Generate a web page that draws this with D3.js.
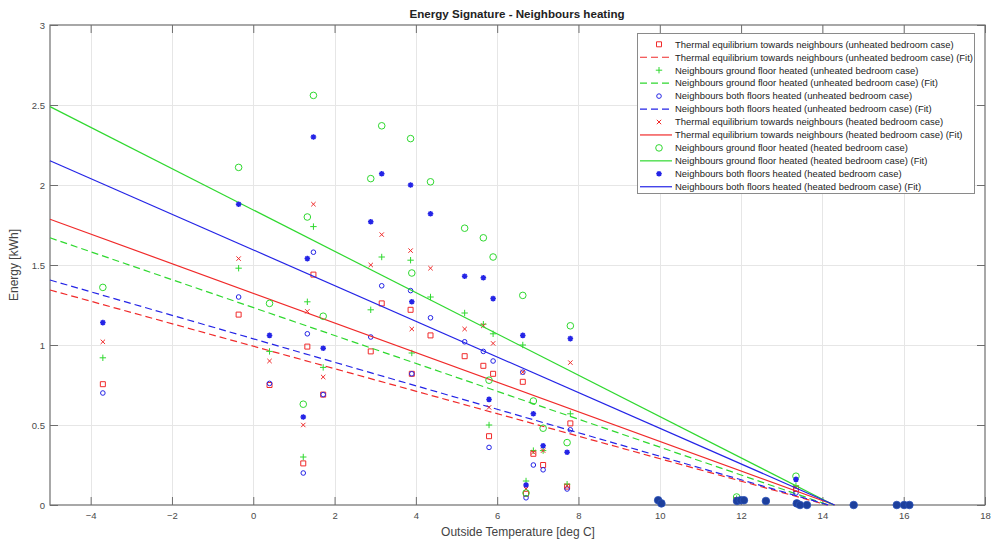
<!DOCTYPE html>
<html>
<head>
<meta charset="utf-8">
<script src="https://cdn.jsdelivr.net/npm/d3@7"></script>
<style>
  html, body { margin: 0; padding: 0; background: #fff; }
  svg { display: block; font-family: "Liberation Sans", Arial, Helvetica, sans-serif; }
</style>
</head>
<body>
<script>
// Outside temperatures (deg C) of the measured heating days
const temps = [-3.7, -0.36, 0.4, 1.23, 1.33, 1.48, 1.72, 2.89, 3.16, 3.87, 3.9, 4.36,
  5.2, 5.66, 5.8, 5.9, 6.63, 6.71, 6.89, 7.13, 7.72, 7.8, 11.89, 13.35];

// Daily heating energy [kWh] per scenario
const eqUnheated = [0.755, 1.19, 0.75, 0.26, 0.99, 1.44, 0.69, 0.96, 1.26, 1.22, 0.82, 1.06,
  0.93, 0.87, 0.43, 0.82, 0.77, 0.07, 0.32, 0.25, 0.115, 0.51, 0.03, 0.10];
const groundUnheated = [0.92, 1.48, 0.96, 0.30, 1.27, 1.74, 0.86, 1.22, 1.55, 1.53, 0.95, 1.30,
  1.20, 1.13, 0.50, 1.07, 1.00, 0.15, 0.34, 0.34, 0.13, 0.57, 0.04, 0.12];
const bothUnheated = [0.70, 1.30, 0.76, 0.20, 1.07, 1.58, 0.69, 1.05, 1.37, 1.34, 0.82, 1.17,
  1.02, 0.96, 0.36, 0.90, 0.83, 0.045, 0.25, 0.22, 0.10, 0.47, 0.03, 0.075];
const eqHeated = [1.02, 1.54, 0.90, 0.50, 1.21, 1.88, 0.80, 1.50, 1.69, 1.59, 1.10, 1.48,
  1.10, 1.12, 0.61, 1.01, 0.83, 0.10, 0.33, 0.34, 0.12, 0.89, 0.03, 0.11];
const groundHeated = [1.36, 2.11, 1.26, 0.63, 1.80, 2.56, 1.18, 2.04, 2.37, 2.29, 1.45, 2.02,
  1.73, 1.67, 0.78, 1.55, 1.31, 0.075, 0.65, 0.48, 0.39, 1.12, 0.05, 0.18];
const bothHeated = [1.14, 1.88, 1.06, 0.55, 1.54, 2.30, 0.98, 1.77, 2.07, 2.00, 1.27, 1.82,
  1.43, 1.42, 0.66, 1.29, 1.06, 0.125, 0.57, 0.37, 0.33, 1.04, 0.03, 0.16];

// Warm days with (almost) no heating demand in any scenario
const noHeatTemps = [9.96, 10.04, 11.9, 11.99, 12.07, 12.61, 13.37, 13.45, 13.62, 14.77, 15.83, 16.01, 16.14];
const noHeatEnergy = [0.03, 0.01, 0.025, 0.03, 0.03, 0.025, 0.01, 0, 0, 0, 0, 0, 0];

// Linear fits: [temperature, energy] at the start and at the balance point
const fitEqUnheated = [[-5, 1.344], [14.12, 0]];
const fitGroundUnheated = [[-5, 1.67], [14.15, 0]];
const fitBothUnheated = [[-5, 1.406], [14.15, 0]];
const fitEqHeated = [[-5, 1.786], [14.3, 0]];
const fitGroundHeated = [[-5, 2.49], [14.28, 0]];
const fitBothHeated = [[-5, 2.152], [14.3, 0]];

const legendLabels = [
  "Thermal equilibrium towards neighbours (unheated bedroom case)",
  "Thermal equilibrium towards neighbours (unheated bedroom case) (Fit)",
  "Neighbours ground floor heated (unheated bedroom case)",
  "Neighbours ground floor heated (unheated bedroom case) (Fit)",
  "Neighbours both floors heated (unheated bedroom case)",
  "Neighbours both floors heated (unheated bedroom case) (Fit)",
  "Thermal equilibrium towards neighbours (heated bedroom case)",
  "Thermal equilibrium towards neighbours (heated bedroom case) (Fit)",
  "Neighbours ground floor heated (heated bedroom case)",
  "Neighbours ground floor heated (heated bedroom case) (Fit)",
  "Neighbours both floors heated (heated bedroom case)",
  "Neighbours both floors heated (heated bedroom case) (Fit)"
];

const xTicks = [-4, -2, 0, 2, 4, 6, 8, 10, 12, 14, 16, 18];
const yTicks = [0, 0.5, 1, 1.5, 2, 2.5, 3];

const RED = "#f02a2a", GREEN = "#2fd82f", BLUE = "#2424e6", NAVY = "#1d3f9c";

// Marker shapes
const markers = {
  square: s => `M${-s},${-s}h${2 * s}v${2 * s}h${-2 * s}Z`,
  plus: s => `M${-s},0h${2 * s}M0,${-s}v${2 * s}`,
  circle: s => `M${s},0A${s},${s} 0 1,1 ${-s},0A${s},${s} 0 1,1 ${s},0Z`,
  cross: s => `M${-s},${-s}L${s},${s}M${-s},${s}L${s},${-s}`,
  star: s => {
    const d = s * 0.72;
    return `M${-s},0h${2 * s}M0,${-s}v${2 * s}M${-d},${-d}L${d},${d}M${-d},${d}L${d},${-d}`;
  }
};

const series = [
  { values: eqUnheated, fit: fitEqUnheated, color: RED, marker: "square", size: 2.5, sw: 1, dash: "7,4" },
  { values: groundUnheated, fit: fitGroundUnheated, color: GREEN, marker: "plus", size: 3.2, sw: 1, dash: "7,4" },
  { values: bothUnheated, fit: fitBothUnheated, color: BLUE, marker: "circle", size: 2.3, sw: 1, dash: "7,4" },
  { values: eqHeated, fit: fitEqHeated, color: RED, marker: "cross", size: 2.2, sw: 1, dash: null },
  { values: groundHeated, fit: fitGroundHeated, color: GREEN, marker: "circle", size: 3.3, sw: 1, dash: null },
  { values: bothHeated, fit: fitBothHeated, color: BLUE, marker: "star", size: 2.8, sw: 1.5, dash: null }
];

const W = 995, H = 539;
const plot = { left: 50, right: 985, top: 25, bottom: 505 };

const svg = d3.select("body").append("svg").attr("width", W).attr("height", H);
svg.append("rect").attr("width", W).attr("height", H).attr("fill", "#fff");

const x = d3.scaleLinear().domain([-5, 18]).range([plot.left, plot.right]);
const y = d3.scaleLinear().domain([0, 3]).range([plot.bottom, plot.top]);

// Grid
const grid = svg.append("g").attr("stroke", "#e6e6e6").attr("stroke-width", 1);
grid.selectAll("line.vx").data(xTicks.filter(t => t < 18)).join("line")
  .attr("x1", d => Math.round(x(d)) + 0.5).attr("x2", d => Math.round(x(d)) + 0.5)
  .attr("y1", plot.top).attr("y2", plot.bottom);
grid.selectAll("line.hy").data(yTicks.filter(t => t > 0 && t < 3)).join("line")
  .attr("y1", d => Math.round(y(d)) + 0.5).attr("y2", d => Math.round(y(d)) + 0.5)
  .attr("x1", plot.left).attr("x2", plot.right);

// Axes with inward ticks
const axisColor = "#6e6e6e";
const styleAxis = g => {
  g.select(".domain").remove();
  g.selectAll(".tick line").attr("stroke", axisColor);
  g.selectAll(".tick text").attr("fill", "#4a4a4a").attr("font-size", 9.5);
};
svg.append("g").attr("transform", `translate(0,${plot.bottom})`)
  .call(d3.axisBottom(x).tickValues(xTicks).tickSizeInner(-8).tickSizeOuter(0).tickPadding(7))
  .call(styleAxis);
svg.append("g").attr("transform", `translate(0,${plot.top})`)
  .call(d3.axisTop(x).tickValues(xTicks).tickSizeInner(-8).tickSizeOuter(0).tickFormat(""))
  .call(styleAxis);
svg.append("g").attr("transform", `translate(${plot.left},0)`)
  .call(d3.axisLeft(y).tickValues(yTicks).tickSizeInner(-8).tickSizeOuter(0).tickPadding(5).tickFormat(d => String(d)))
  .call(styleAxis);
svg.append("g").attr("transform", `translate(${plot.right},0)`)
  .call(d3.axisRight(y).tickValues(yTicks).tickSizeInner(-8).tickSizeOuter(0).tickFormat(""))
  .call(styleAxis);

svg.append("rect")
  .attr("x", plot.left).attr("y", plot.top)
  .attr("width", plot.right - plot.left).attr("height", plot.bottom - plot.top)
  .attr("fill", "none").attr("stroke", axisColor).attr("stroke-width", 1.2);

// Data: markers then fit line for each scenario
const line = d3.line().x(d => x(d[0])).y(d => y(d[1]));
const layer = svg.append("g");
series.forEach(s => {
  const pts = temps.map((t, i) => [t, s.values[i]]);
  layer.append("g").selectAll("path").data(pts).join("path")
    .attr("transform", d => `translate(${x(d[0])},${y(d[1])})`)
    .attr("d", markers[s.marker](s.size))
    .attr("fill", "none").attr("stroke", s.color).attr("stroke-width", s.sw);
  layer.append("path").datum(s.fit)
    .attr("d", line)
    .attr("fill", "none").attr("stroke", s.color).attr("stroke-width", 1.2)
    .attr("stroke-dasharray", s.dash);
});

// Days without heating demand
layer.append("g").selectAll("circle")
  .data(noHeatTemps.map((t, i) => [t, noHeatEnergy[i]]))
  .join("circle")
  .attr("cx", d => x(d[0])).attr("cy", d => y(d[1])).attr("r", 3.8)
  .attr("fill", NAVY).attr("stroke", "#2a50b8").attr("stroke-width", 0.8);

// Title and axis labels
svg.append("text").attr("x", 517).attr("y", 18).attr("text-anchor", "middle")
  .attr("font-size", 11.6).attr("font-weight", "bold").attr("fill", "#222")
  .text("Energy Signature - Neighbours heating");
svg.append("text").attr("x", 518).attr("y", 536).attr("text-anchor", "middle")
  .attr("font-size", 12).attr("fill", "#444")
  .text("Outside Temperature [deg C]");
svg.append("text").attr("transform", "translate(18,265) rotate(-90)").attr("text-anchor", "middle")
  .attr("font-size", 12).attr("fill", "#444")
  .text("Energy [kWh]");

// Legend
const lg = svg.append("g");
lg.append("rect").attr("x", 637.5).attr("y", 33.5).attr("width", 337).attr("height", 160)
  .attr("fill", "#fff").attr("stroke", "#8a8a8a").attr("stroke-width", 1);
const rowY = i => 44.3 + i * 12.95;
legendLabels.forEach((label, i) => {
  const s = series[Math.floor(i / 2)];
  const g = lg.append("g");
  if (i % 2 === 0) {
    g.append("path").attr("transform", `translate(659,${rowY(i)})`)
      .attr("d", markers[s.marker](s.size))
      .attr("fill", "none").attr("stroke", s.color).attr("stroke-width", s.sw);
  } else {
    g.append("line").attr("x1", 640).attr("x2", 672).attr("y1", rowY(i)).attr("y2", rowY(i))
      .attr("stroke", s.color).attr("stroke-width", 1.2).attr("stroke-dasharray", s.dash);
  }
  g.append("text").attr("x", 675).attr("y", rowY(i) + 3.3)
    .attr("font-size", 9.45).attr("fill", "#222").text(label);
});
</script>
</body>
</html>
